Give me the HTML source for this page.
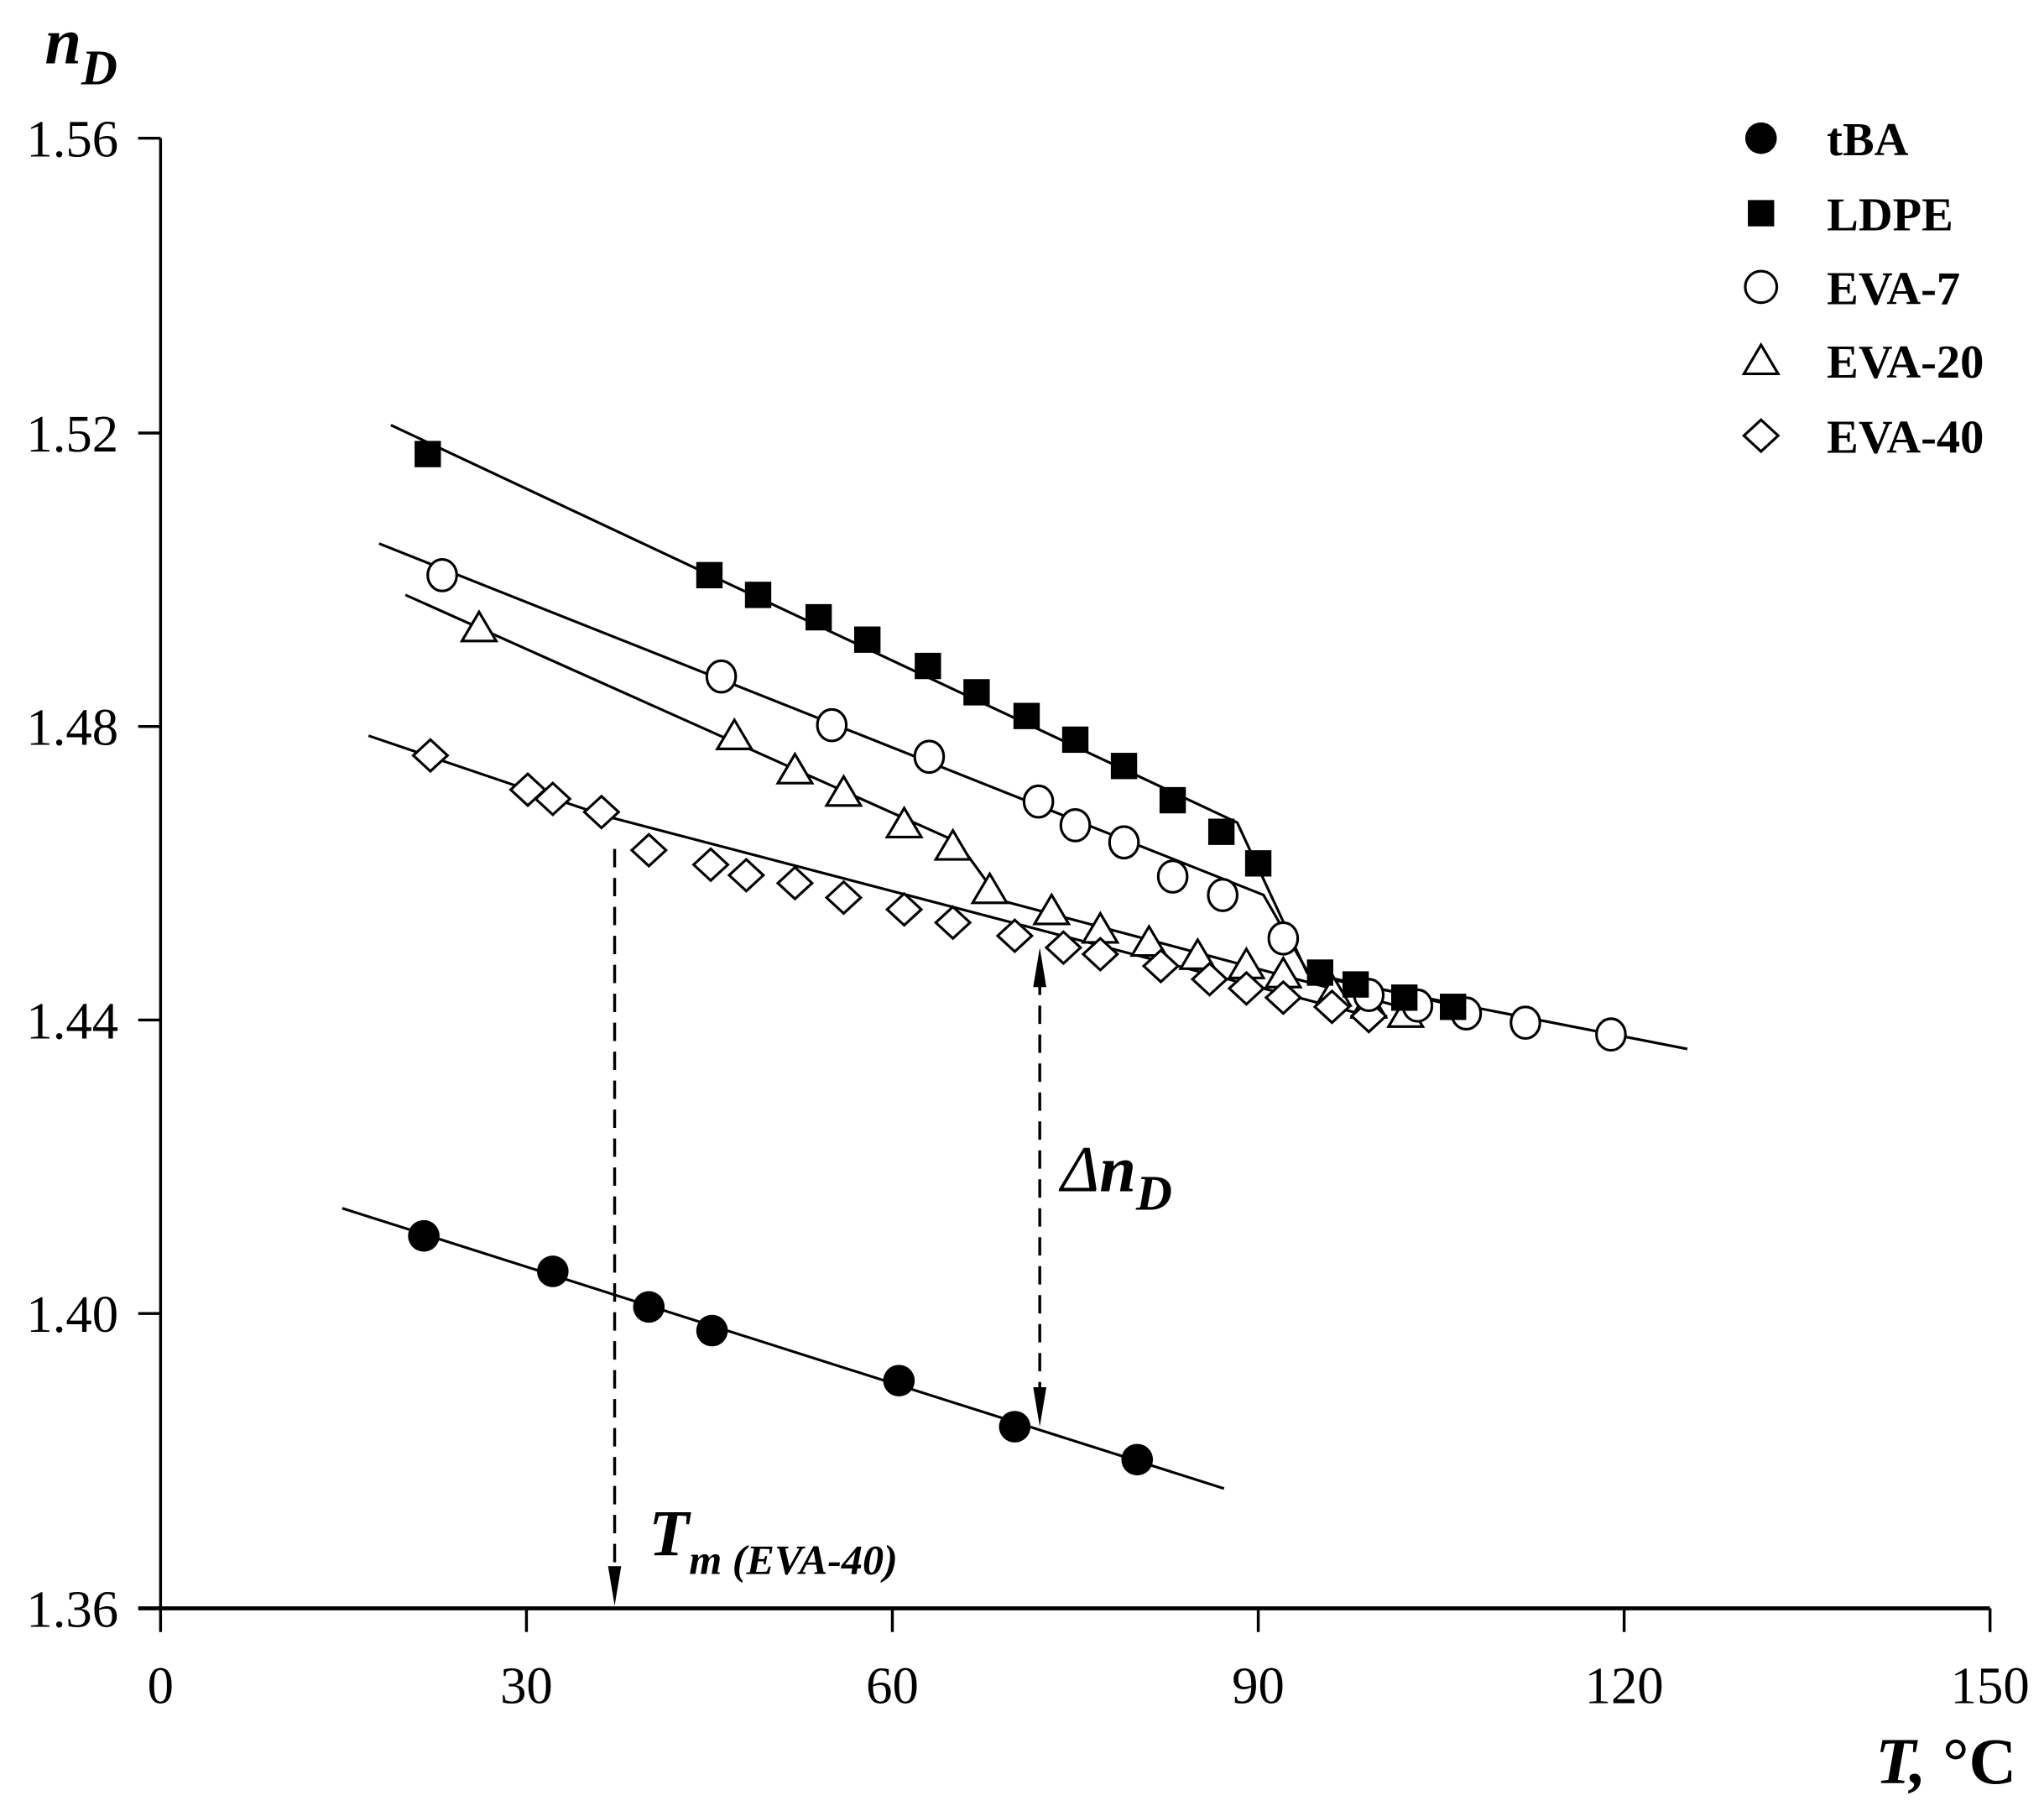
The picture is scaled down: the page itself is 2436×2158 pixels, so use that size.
<!DOCTYPE html>
<html><head><meta charset="utf-8"><style>
html,body{margin:0;padding:0;background:#fff;}
svg{display:block;}
text{font-family:"Liberation Serif",serif;fill:#000;}
</style></head><body>
<svg width="2436" height="2158" viewBox="0 0 1553 1376" preserveAspectRatio="none" xmlns="http://www.w3.org/2000/svg">
<!-- axes -->
<g stroke="#000" stroke-width="2.2" fill="none">
<line x1="122" y1="105" x2="122" y2="1222"/>
<line x1="105" y1="1222" x2="1512" y2="1222" stroke-width="3"/>
<line x1="105" y1="105" x2="122" y2="105"/>
<line x1="105" y1="329" x2="122" y2="329"/>
<line x1="105" y1="552" x2="122" y2="552"/>
<line x1="105" y1="775" x2="122" y2="775"/>
<line x1="105" y1="998" x2="122" y2="998"/>
<line x1="122" y1="1222" x2="122" y2="1240"/>
<line x1="400" y1="1222" x2="400" y2="1240"/>
<line x1="678" y1="1222" x2="678" y2="1240"/>
<line x1="956" y1="1222" x2="956" y2="1240"/>
<line x1="1234" y1="1222" x2="1234" y2="1240"/>
<line x1="1512" y1="1222" x2="1512" y2="1240"/>
</g>
<g font-size="40" text-anchor="end">
<text x="90" y="119">1.56</text><text x="90" y="343">1.52</text><text x="90" y="566">1.48</text>
<text x="90" y="789">1.44</text><text x="90" y="1012">1.40</text><text x="90" y="1236">1.36</text>
</g>
<g font-size="40" text-anchor="middle">
<text x="122" y="1294">0</text><text x="400" y="1294">30</text><text x="678" y="1294">60</text>
<text x="956" y="1294">90</text><text x="1234" y="1294">120</text><text x="1512" y="1294">150</text>
</g>
<text x="34" y="48" font-size="50" font-weight="bold" font-style="italic">n<tspan font-size="38" dy="16">D</tspan></text>
<text x="1425" y="1355" font-size="50" font-weight="bold" font-style="italic">T, <tspan font-style="normal">°C</tspan></text>

<!-- fit lines -->
<g stroke="#000" stroke-width="2" fill="none">
<polyline points="260,918 930,1131"/>
<polyline points="297,323 940,625 993,739 1110,765"/>
<polyline points="288,413 960,680 995,741 1282,797"/>
<polyline points="308,452 728,640 760,684 1083,770"/>
<polyline points="280,559 460,620 1040,772"/>
</g>
<!-- dashed arrows -->
<g stroke="#000" stroke-width="2.2" stroke-dasharray="14,8" fill="none">
<line x1="467" y1="645" x2="467" y2="1200"/>
<line x1="790" y1="742" x2="790" y2="1062"/>
</g>
<g fill="#000">
<path d="M462,1190 L472,1190 L467,1220 Z"/>
<path d="M785,750 L795,750 L790,720 Z"/>
<path d="M785,1054 L795,1054 L790,1084 Z"/>
</g>
<text x="806" y="905" font-size="50" font-style="italic">Δ<tspan font-weight="bold">n</tspan><tspan font-size="38" dy="14" font-weight="bold">D</tspan></text>
<text x="493" y="1182" font-size="50" font-weight="bold" font-style="italic">T<tspan font-size="32" dy="14">m (EVA-40)</tspan></text>

<!-- EVA-40 diamonds -->
<g fill="#fff" stroke="#000" stroke-width="2">
<path d="M327,562 l13,12 -13,12 -13,-12z"/><path d="M401,588 l13,12 -13,12 -13,-12z"/><path d="M420,595 l13,12 -13,12 -13,-12z"/>
<path d="M457,605 l13,12 -13,12 -13,-12z"/><path d="M493,634 l13,12 -13,12 -13,-12z"/><path d="M540,645 l13,12 -13,12 -13,-12z"/>
<path d="M567,653 l13,12 -13,12 -13,-12z"/><path d="M604,659 l13,12 -13,12 -13,-12z"/><path d="M641,670 l13,12 -13,12 -13,-12z"/>
<path d="M687,679 l13,12 -13,12 -13,-12z"/><path d="M724,689 l13,12 -13,12 -13,-12z"/><path d="M771,699 l13,12 -13,12 -13,-12z"/>
</g>
<!-- EVA-20 triangles -->
<g fill="#fff" stroke="#000" stroke-width="2">
<path d="M364,465 l13,22 h-26z"/><path d="M558,547 l13,22 h-26z"/><path d="M604,573 l13,22 h-26z"/>
<path d="M641,590 l13,22 h-26z"/><path d="M687,614 l13,22 h-26z"/><path d="M724,631 l13,22 h-26z"/>
<path d="M752,664 l13,22 h-26z"/><path d="M799,680 l13,22 h-26z"/><path d="M836,694 l13,22 h-26z"/>
<path d="M873,704 l13,22 h-26z"/><path d="M910,714 l13,22 h-26z"/><path d="M947,721 l13,22 h-26z"/>
<path d="M975,728 l13,22 h-26z"/><path d="M1013,742 l13,22 h-26z"/><path d="M1040,751 l13,22 h-26z"/><path d="M1068,758 l13,22 h-26z"/>
</g>
<g fill="#fff" stroke="#000" stroke-width="2">
<path d="M808,708 l13,12 -13,12 -13,-12z"/><path d="M836,713 l13,12 -13,12 -13,-12z"/><path d="M882,722 l13,12 -13,12 -13,-12z"/>
<path d="M919,732 l13,12 -13,12 -13,-12z"/><path d="M947,739 l13,12 -13,12 -13,-12z"/><path d="M975,746 l13,12 -13,12 -13,-12z"/>
<path d="M1012,753 l13,12 -13,12 -13,-12z"/><path d="M1040,760 l13,12 -13,12 -13,-12z"/>
</g>
<!-- EVA-7 circles -->
<g fill="#fff" stroke="#000" stroke-width="2">
<ellipse cx="336" cy="437" rx="11" ry="12"/><ellipse cx="548" cy="514" rx="11" ry="12"/><ellipse cx="632" cy="551" rx="11" ry="12"/>
<ellipse cx="706" cy="575" rx="11" ry="12"/><ellipse cx="789" cy="609" rx="11" ry="12"/><ellipse cx="817" cy="627" rx="11" ry="12"/>
<ellipse cx="854" cy="640" rx="11" ry="12"/><ellipse cx="891" cy="666" rx="11" ry="12"/><ellipse cx="929" cy="680" rx="11" ry="12"/>
<ellipse cx="975" cy="713" rx="11" ry="12"/><ellipse cx="1040" cy="756" rx="11" ry="12"/>
<ellipse cx="1077" cy="764" rx="11" ry="12"/><ellipse cx="1114" cy="770" rx="11" ry="12"/><ellipse cx="1159" cy="777" rx="11" ry="12"/><ellipse cx="1224" cy="786" rx="11" ry="12"/>
</g>
<!-- LDPE squares -->
<g fill="#000">
<rect x="315" y="335" width="20" height="20"/><rect x="529" y="427" width="20" height="20"/><rect x="566" y="442" width="20" height="20"/>
<rect x="612" y="459" width="20" height="20"/><rect x="649" y="476" width="20" height="20"/><rect x="695" y="496" width="20" height="20"/>
<rect x="732" y="516" width="20" height="20"/><rect x="770" y="534" width="20" height="20"/><rect x="807" y="552" width="20" height="20"/>
<rect x="844" y="572" width="20" height="20"/><rect x="881" y="598" width="20" height="20"/><rect x="918" y="622" width="20" height="20"/>
<rect x="946" y="646" width="20" height="20"/><rect x="993" y="729" width="20" height="20"/><rect x="1020" y="738" width="20" height="20"/>
<rect x="1057" y="748" width="20" height="20"/><rect x="1094" y="755" width="20" height="20"/>
</g>
<!-- tBA -->
<g fill="#000">
<ellipse cx="322" cy="939" rx="12" ry="12"/><ellipse cx="420" cy="966" rx="12" ry="12"/><ellipse cx="493" cy="993" rx="12" ry="12"/>
<ellipse cx="541" cy="1011" rx="12" ry="12"/><ellipse cx="683" cy="1049" rx="12" ry="12"/><ellipse cx="771" cy="1084" rx="12" ry="12"/><ellipse cx="864" cy="1109" rx="12" ry="12"/>
</g>
<!-- legend -->
<circle cx="1338" cy="105" r="12" fill="#000"/>
<rect x="1328" y="152" width="20" height="20" fill="#000"/>
<circle cx="1338" cy="218" r="12" fill="#fff" stroke="#000" stroke-width="2"/>
<path d="M1338,262 l13,22 h-26z" fill="#fff" stroke="#000" stroke-width="2"/>
<path d="M1338,319 l13,12 -13,12 -13,-12z" fill="#fff" stroke="#000" stroke-width="2"/>
<g font-size="36" font-weight="bold">
<text x="1388" y="118">tBA</text><text x="1388" y="175">LDPE</text><text x="1388" y="231">EVA-7</text>
<text x="1388" y="287">EVA-20</text><text x="1388" y="344">EVA-40</text>
</g>
</svg>
</body></html>
